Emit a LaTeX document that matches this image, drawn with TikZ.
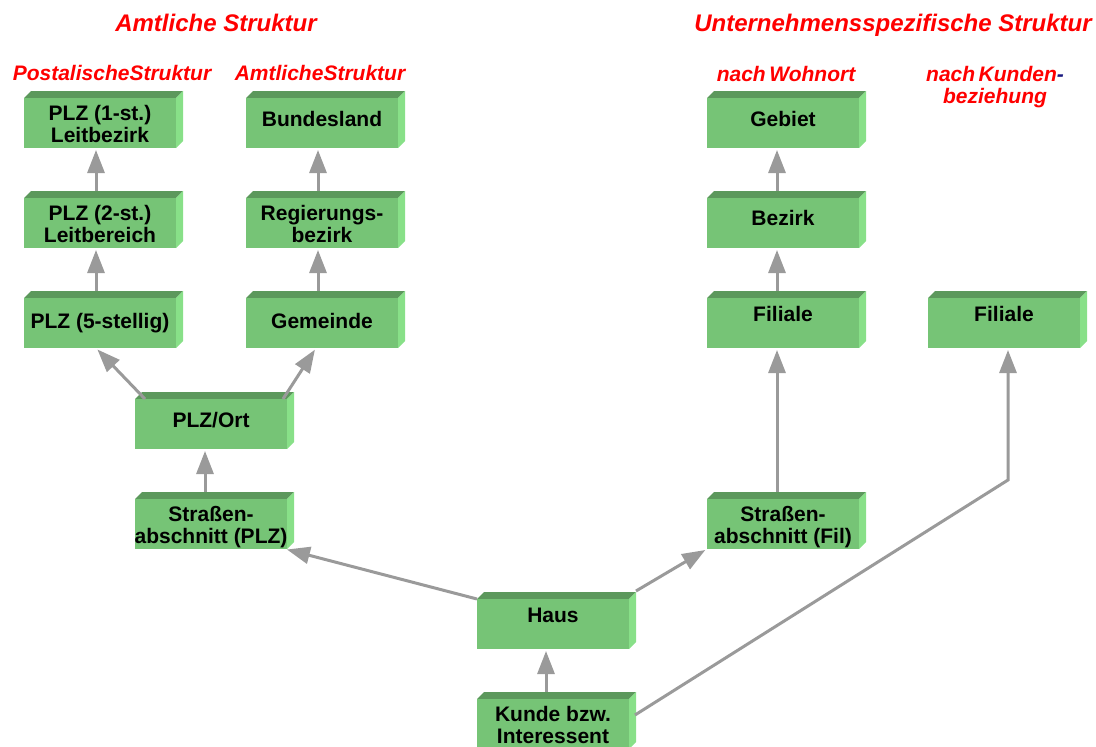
\documentclass[tikz,border=0pt]{standalone}
\usepackage{fontspec}
\setmainfont{Liberation Sans}
\usetikzlibrary{arrows.meta,calc}
\definecolor{gfront}{HTML}{76C476}
\definecolor{gtop}{HTML}{5C985C}
\definecolor{gside}{HTML}{88E088}
\definecolor{arrgray}{HTML}{9A9A9A}
\definecolor{hdrred}{HTML}{FF0000}
\definecolor{navydash}{HTML}{1A1A80}
\tikzset{
  frontbox/.style={fill=gfront, anchor=north west, minimum width=152pt, minimum height=50pt, inner sep=0pt, outer sep=0pt},
  boxtxt/.style={anchor=base, inner sep=0pt, font=\bfseries\fontsize{21}{22}\selectfont},
  conn/.style={draw=arrgray, line width=3pt, -{Triangle[length=23pt,width=17pt]}, shorten >=2pt},
  hdr/.style={anchor=base, text=hdrred, inner sep=0pt, font=\bfseries\itshape\fontsize{24}{28}\selectfont},
  subhdr/.style={anchor=base, text=hdrred, inner sep=0pt, font=\bfseries\itshape\fontsize{21}{22.5}\selectfont},
}
\newcommand{\gbox}[5]{%
  \fill[gtop] (#2,#3) -- (#2+7,#3-7) -- (#2+159,#3-7) -- (#2+152,#3) -- cycle;
  \fill[gside] (#2+152,#3) -- (#2+159,#3-7) -- (#2+159,#3+43) -- (#2+152,#3+50) -- cycle;
  \node[frontbox] (#1) at (#2,#3) {};
  \node[boxtxt] (#1-t) at (#2+76,#4) {\begin{tabular}[t]{@{}c@{}}#5\end{tabular}};
}
\begin{document}
\begin{tikzpicture}[x=1pt,y=-1pt]
\useasboundingbox (0,0) rectangle (1096,747);

% headers
\node[hdr] (h1) at (216,31) {Amtliche Struktur};
\node[hdr] (h2) at (893,31) {Unternehmensspezifische Struktur};
\node[subhdr] (s1) at (112,80) {PostalischeStruktur};
\node[subhdr] (s2) at (320,80) {AmtlicheStruktur};
\node[subhdr] (s3) at (786,81) {nach\,Wohnort};
\node[subhdr] (s4) at (995,81) {\begin{tabular}[t]{@{}c@{}}nach\,Kunden{\color{navydash}-}\\beziehung\end{tabular}};

% boxes
\gbox{plzA}{24}{98}{120}{PLZ (1-st.)\\Leitbezirk}
\gbox{bland}{246}{98}{126}{Bundesland}
\gbox{gebiet}{707}{98}{126}{Gebiet}
\gbox{plzB}{24}{198}{220}{PLZ (2-st.)\\Leitbereich}
\gbox{rbez}{246}{198}{220}{Regierungs-\\bezirk}
\gbox{bezirk}{707}{198}{225}{Bezirk}
\gbox{plzC}{24}{298}{328}{PLZ (5-stellig)}
\gbox{gem}{246}{298}{328}{Gemeinde}
\gbox{filA}{707}{298}{321}{Filiale}
\gbox{filB}{928}{298}{321}{Filiale}
\gbox{plzort}{135}{399}{427}{PLZ/Ort}
\gbox{strplz}{135}{499}{521}{Straßen-\\abschnitt (PLZ)}
\gbox{strfil}{707}{499}{521}{Straßen-\\abschnitt (Fil)}
\gbox{haus}{477}{599}{622}{Haus}
\gbox{kunde}{477}{699}{721}{Kunde bzw.\\Interessent}

% connectors
\draw[conn] ($(plzB.north)+(-4,-7)$) -- ($(plzA.south)+(-4,0)$);
\draw[conn] ($(plzC.north)+(-4,-7)$) -- ($(plzB.south)+(-4,0)$);
\draw[conn] ($(rbez.north)+(-4,-7)$) -- ($(bland.south)+(-4,0)$);
\draw[conn] ($(gem.north)+(-4,-7)$) -- ($(rbez.south)+(-4,0)$);
\draw[conn] ($(bezirk.north)+(-6,-7)$) -- ($(gebiet.south)+(-6,0)$);
\draw[conn] ($(filA.north)+(-6,-7)$) -- ($(bezirk.south)+(-6,0)$);
\draw[conn] ($(strfil.north)+(-6,-7)$) -- ($(filA.south)+(-6,0)$);
\draw[conn] ($(strplz.north)+(-6,-7)$) -- ($(plzort.south)+(-6,0)$);
\draw[conn] ($(plzort.north west)+(10,0)$) -- ($(plzC.south)+(-4,0)$);
\draw[conn] ($(plzort.north east)+(-4,0)$) -- ($(gem.south)+(-6,0)$);
\draw[conn] (haus.north west) -- ($(strplz.south east)+(-2,0)$);
\draw[conn] ($(haus.north east)+(7,-8)$) -- (strfil.south west);
\draw[conn] ($(kunde.north)+(-7,-7)$) -- ($(haus.south)+(-7,0)$);
\coordinate (knick) at (1008,480);
\draw[conn] ($(kunde.north east)+(6,16)$) -- (knick) -- (knick |- filB.south);
\end{tikzpicture}
\end{document}
